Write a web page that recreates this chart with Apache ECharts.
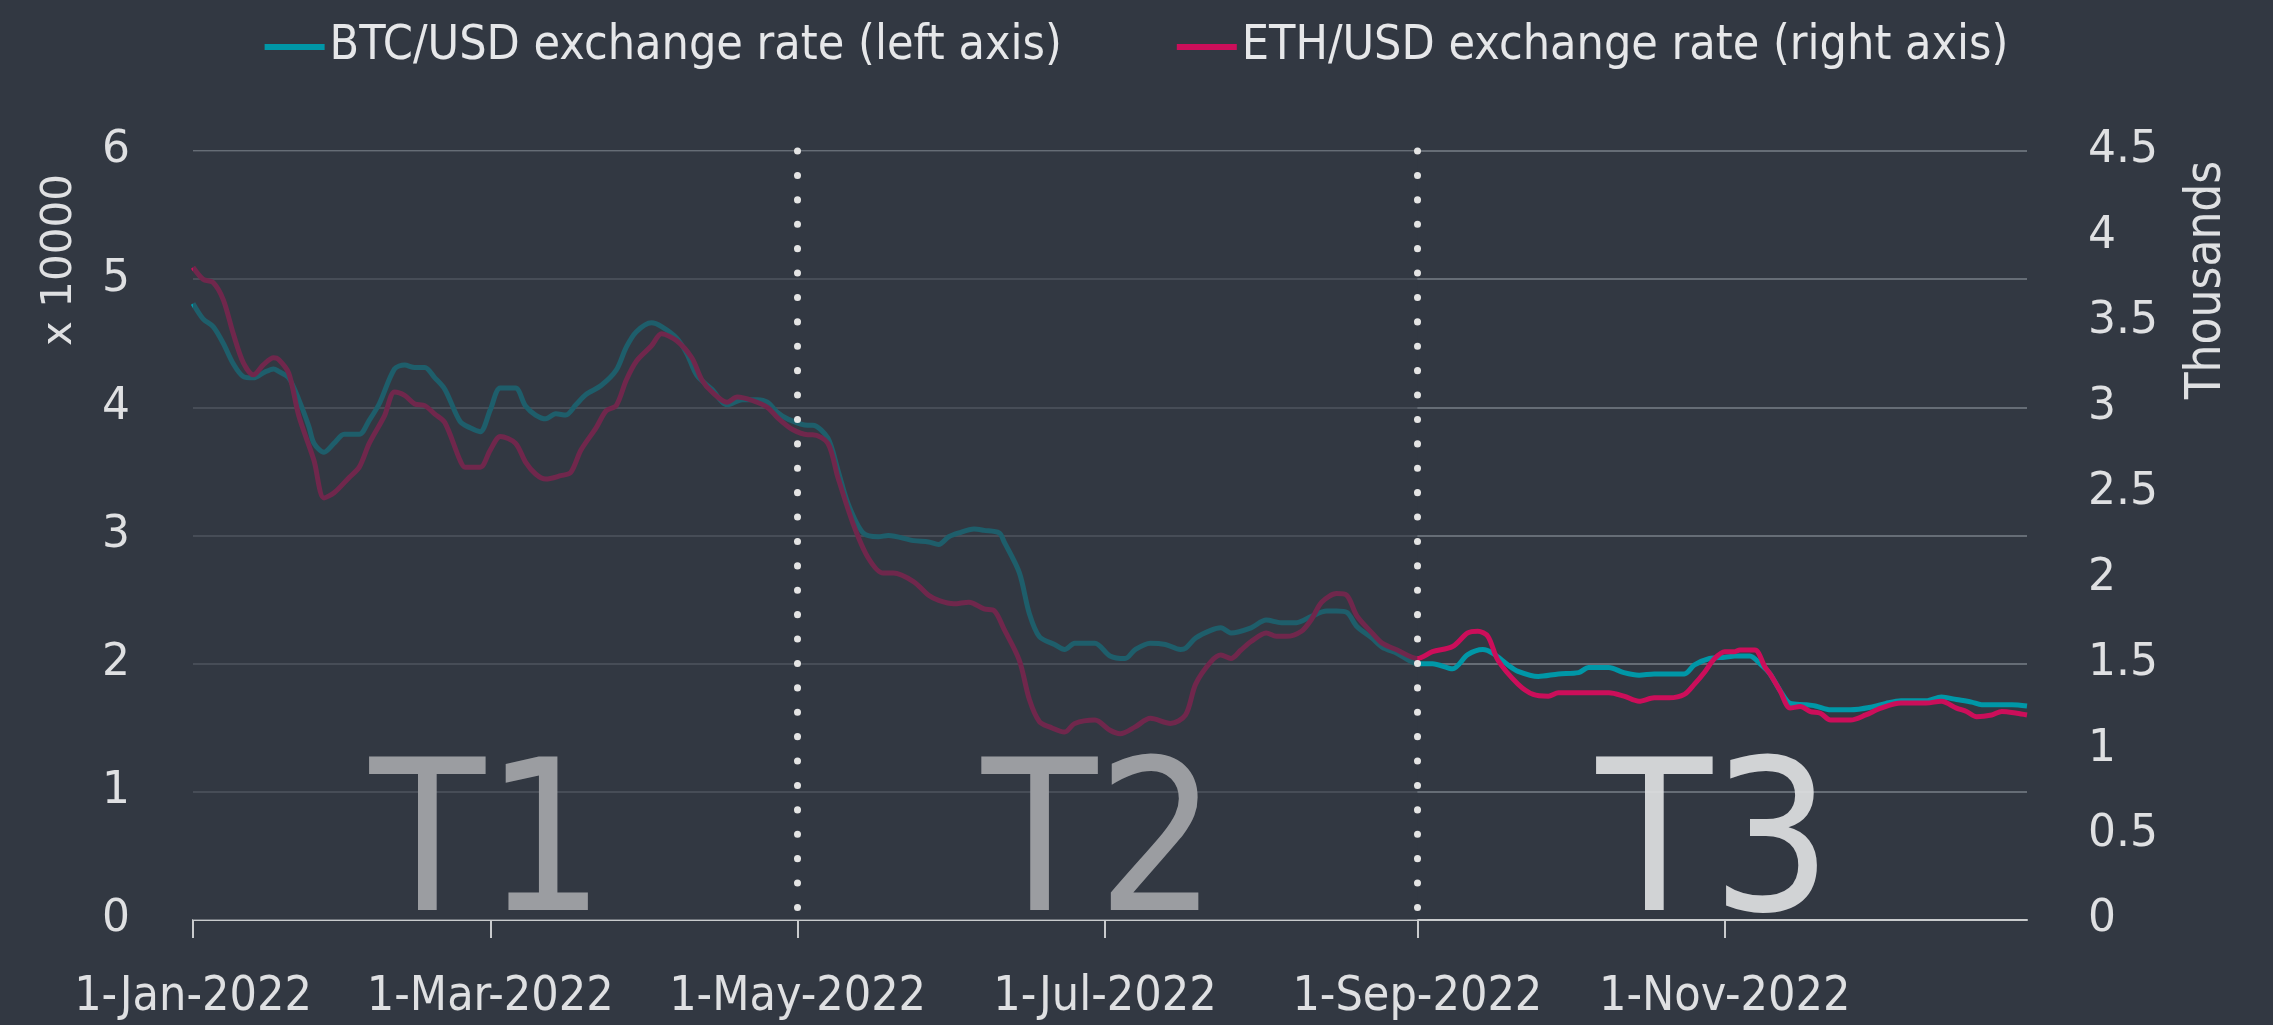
<!DOCTYPE html>
<html>
<head>
<meta charset="utf-8">
<title>BTC/USD and ETH/USD exchange rates, 2022</title>
<script src="https://cdn.jsdelivr.net/npm/echarts@6/dist/echarts.min.js"></script>
<style>
  html, body { margin: 0; padding: 0; background: #323842; }
  #chart { width: 2273px; height: 1025px; }
</style>
</head>
<body>
<div id="chart"></div>
<script>
// days since 1-Jan-2022 and value
const btcDays = [0, 2, 4, 6, 8, 10, 12, 14, 16, 17, 19, 21, 23, 24, 26, 28, 30, 33, 35, 37, 40, 42, 44, 46, 48, 50, 53, 55, 57, 59, 61, 64, 66, 68, 70, 72, 74, 76, 78, 81, 84, 86, 88, 91, 93, 96, 98, 100, 103, 106, 109, 112, 114, 116, 118, 122, 123, 126, 128, 130, 133, 136, 138, 143, 146, 148, 150, 152, 155, 157, 160, 161, 164, 166, 168, 171, 173, 175, 179, 182, 185, 187, 190, 193, 196, 197, 199, 202, 204, 206, 210, 213, 216, 219, 222, 225, 227, 229, 231, 234, 236, 239, 243, 246, 250, 253, 256, 258, 261, 263, 267, 271, 275, 277, 281, 284, 287, 290, 293, 296, 298, 301, 304, 306, 309, 311, 313, 315, 317, 320, 322, 325, 329, 333, 336, 339, 341, 344, 347, 350, 353, 355, 358, 361, 364];
const btcValues = [4.81, 4.69, 4.63, 4.50, 4.34, 4.24, 4.23, 4.27, 4.30, 4.28, 4.23, 4.06, 3.85, 3.72, 3.65, 3.72, 3.79, 3.79, 3.90, 4.03, 4.30, 4.33, 4.31, 4.31, 4.23, 4.14, 3.89, 3.84, 3.81, 3.98, 4.15, 4.15, 4.01, 3.94, 3.91, 3.95, 3.94, 4.02, 4.10, 4.17, 4.29, 4.47, 4.59, 4.66, 4.63, 4.54, 4.42, 4.25, 4.14, 4.02, 4.06, 4.06, 4.04, 3.96, 3.91, 3.86, 3.86, 3.76, 3.51, 3.25, 3.02, 2.99, 3.00, 2.96, 2.95, 2.93, 2.99, 3.02, 3.05, 3.04, 3.02, 2.95, 2.71, 2.39, 2.21, 2.15, 2.11, 2.16, 2.16, 2.06, 2.04, 2.11, 2.16, 2.15, 2.11, 2.12, 2.20, 2.26, 2.28, 2.24, 2.28, 2.34, 2.32, 2.32, 2.37, 2.41, 2.41, 2.40, 2.29, 2.20, 2.13, 2.08, 2.00, 2.00, 1.96, 2.07, 2.11, 2.08, 1.99, 1.94, 1.90, 1.92, 1.93, 1.97, 1.97, 1.93, 1.91, 1.92, 1.92, 1.92, 1.99, 2.04, 2.05, 2.06, 2.06, 2.00, 1.92, 1.79, 1.69, 1.68, 1.67, 1.64, 1.64, 1.66, 1.69, 1.71, 1.71, 1.71, 1.74, 1.72, 1.70, 1.68, 1.68, 1.68, 1.67];

const ethDays = [0, 2, 4, 6, 8, 10, 12, 14, 16, 17, 19, 21, 24, 26, 28, 31, 33, 35, 38, 40, 42, 44, 46, 48, 50, 53, 54, 57, 59, 61, 64, 66, 68, 70, 73, 75, 77, 80, 82, 84, 86, 88, 91, 93, 96, 99, 101, 103, 106, 108, 111, 114, 116, 119, 122, 123, 126, 128, 131, 134, 137, 139, 143, 146, 148, 151, 154, 157, 159, 161, 164, 166, 168, 170, 173, 175, 179, 182, 184, 187, 190, 194, 197, 199, 202, 204, 206, 208, 210, 213, 215, 217, 220, 222, 224, 227, 229, 231, 234, 236, 239, 243, 246, 250, 253, 255, 257, 259, 263, 266, 269, 271, 276, 281, 284, 287, 290, 293, 296, 298, 300, 302, 304, 306, 307, 310, 312, 313, 315, 317, 319, 321, 323, 325, 329, 332, 335, 339, 341, 344, 347, 350, 352, 354, 357, 359, 362, 364];
const ethValues = [3.82, 3.75, 3.73, 3.63, 3.43, 3.26, 3.19, 3.25, 3.29, 3.28, 3.20, 2.95, 2.69, 2.47, 2.50, 2.59, 2.65, 2.79, 2.95, 3.09, 3.07, 3.02, 3.01, 2.96, 2.91, 2.69, 2.65, 2.65, 2.75, 2.83, 2.79, 2.68, 2.61, 2.58, 2.60, 2.62, 2.75, 2.88, 2.98, 3.01, 3.16, 3.27, 3.36, 3.43, 3.39, 3.29, 3.16, 3.09, 3.03, 3.06, 3.04, 3.00, 2.94, 2.87, 2.84, 2.84, 2.79, 2.59, 2.32, 2.12, 2.03, 2.03, 1.98, 1.90, 1.87, 1.85, 1.86, 1.82, 1.81, 1.70, 1.52, 1.29, 1.16, 1.13, 1.10, 1.15, 1.17, 1.11, 1.09, 1.13, 1.18, 1.15, 1.20, 1.38, 1.51, 1.55, 1.53, 1.58, 1.63, 1.68, 1.66, 1.66, 1.69, 1.76, 1.86, 1.91, 1.90, 1.78, 1.68, 1.62, 1.58, 1.53, 1.57, 1.60, 1.68, 1.69, 1.66, 1.52, 1.38, 1.32, 1.31, 1.33, 1.33, 1.33, 1.31, 1.28, 1.30, 1.30, 1.32, 1.38, 1.45, 1.53, 1.57, 1.57, 1.58, 1.58, 1.48, 1.44, 1.34, 1.24, 1.25, 1.22, 1.21, 1.17, 1.17, 1.20, 1.24, 1.27, 1.27, 1.27, 1.28, 1.24, 1.22, 1.19, 1.20, 1.22, 1.21, 1.20];

const xTickDates = ['2022-01-01', '2022-03-01', '2022-05-01', '2022-07-01', '2022-09-01', '2022-11-01'];
const periodNames = ['T1', 'T2', 'T3'];
const periodStarts = ['2022-01-01', '2022-05-01', '2022-09-01'];
const periodEnds = ['2022-05-01', '2022-09-01', '2022-12-31'];
const dividerDates = ['2022-05-01', '2022-09-01'];
const dimRange = ['2022-01-01', '2022-09-01'];

const seriesNames = ['BTC/USD exchange rate (left axis)', 'ETH/USD exchange rate (right axis)'];
const monthNames = ['Jan', 'Feb', 'Mar', 'Apr', 'May', 'Jun', 'Jul', 'Aug', 'Sep', 'Oct', 'Nov', 'Dec'];

const DAY = 86400000;
const START = Date.UTC(2022, 0, 1);
const END = Date.UTC(2022, 11, 31);
const toTime = d => START + d * DAY;
const parseDate = s => {
  const [y, m, d] = s.split('-').map(Number);
  return Date.UTC(y, m - 1, d);
};
const fmtDate = v => {
  const d = new Date(v);
  return d.getUTCDate() + '-' + monthNames[d.getUTCMonth()] + '-' + d.getUTCFullYear();
};

const btcData = btcDays.map((d, i) => [toTime(d), btcValues[i]]);
const ethData = ethDays.map((d, i) => [toTime(d), ethValues[i]]);
const xTicks = xTickDates.map(parseDate);

const bg = '#323842';
const textColor = '#dfe0e2';
const gridColor = '#666d76';
const teal = '#0097a7';
const magenta = '#cc0e5a';
const periodColors = ['#9b9da1', '#9b9da1', 'rgba(222,223,225,0.93)'];

const chart = echarts.init(document.getElementById('chart'));

chart.setOption({
  backgroundColor: bg,
  animation: false,
  textStyle: { fontFamily: 'DejaVu Sans Condensed' },
  legend: {
    data: seriesNames,
    top: 18,
    left: 'center',
    icon: 'rect',
    itemWidth: 60,
    itemHeight: 6,
    itemGap: 115,
    textStyle: {
      color: '#e6e7e9',
      fontSize: 48,
      fontFamily: 'DejaVu Sans Condensed'
    }
  },
  grid: { left: 193, right: 246, top: 151, bottom: 105 },
  // timestamps on a plain value axis, labelled as dates
  xAxis: {
    type: 'value',
    min: START,
    max: END,
    splitLine: { show: false },
    axisLine: { lineStyle: { color: '#c9cbcd', width: 2 } },
    axisTick: {
      show: true,
      length: 18,
      customValues: xTicks,
      lineStyle: { color: '#c9cbcd', width: 2 }
    },
    axisLabel: {
      customValues: xTicks,
      formatter: v => fmtDate(v),
      color: textColor,
      fontSize: 48,
      fontFamily: 'DejaVu Sans Condensed',
      margin: 54
    }
  },
  yAxis: [
    {
      type: 'value',
      min: 0,
      max: 6,
      interval: 1,
      axisLine: { show: false },
      axisTick: { show: false },
      splitLine: { lineStyle: { color: gridColor, width: 2 } },
      axisLabel: { color: textColor, fontSize: 44, fontFamily: 'DejaVu Sans', margin: 63 }
    },
    {
      type: 'value',
      position: 'right',
      min: 0,
      max: 4.5,
      interval: 0.5,
      axisLine: { show: false },
      axisTick: { show: false },
      splitLine: { show: false },
      axisLabel: { color: textColor, fontSize: 44, fontFamily: 'DejaVu Sans', margin: 61 }
    }
  ],
  graphic: [
    {
      type: 'text',
      x: 60,
      y: 260,
      rotation: Math.PI / 2,
      style: {
        text: 'x 10000',
        fill: textColor,
        fontSize: 42,
        fontFamily: 'DejaVu Sans',
        align: 'center',
        verticalAlign: 'middle'
      }
    },
    {
      type: 'text',
      x: 2207,
      y: 280,
      rotation: Math.PI / 2,
      style: {
        text: 'Thousands',
        fill: textColor,
        fontSize: 49,
        fontFamily: 'DejaVu Sans Condensed',
        align: 'center',
        verticalAlign: 'middle'
      }
    }
  ],
  series: [
    {
      name: seriesNames[0],
      type: 'line',
      yAxisIndex: 0,
      data: btcData,
      color: teal,
      showSymbol: false,
      smooth: 0.3,
      z: 2,
      lineStyle: { color: teal, width: 5 }
    },
    {
      name: seriesNames[1],
      type: 'line',
      yAxisIndex: 1,
      data: ethData,
      color: magenta,
      showSymbol: false,
      smooth: 0.3,
      z: 3,
      lineStyle: { color: magenta, width: 5 }
    },
    {
      // dims the first two periods
      type: 'line',
      data: [],
      silent: true,
      markArea: {
        z: 10,
        silent: true,
        itemStyle: { color: 'rgba(50,56,66,0.6)' },
        label: { show: false },
        data: [[{ xAxis: parseDate(dimRange[0]) }, { xAxis: parseDate(dimRange[1]) }]]
      }
    },
    {
      // period captions and dotted dividers
      type: 'line',
      data: [],
      silent: true,
      clip: false,
      markArea: {
        z: 11,
        silent: true,
        itemStyle: { color: 'rgba(0,0,0,0)' },
        data: periodNames.map((name, i) => [
          {
            name: name,
            xAxis: parseDate(periodStarts[i]),
            label: {
              show: true,
              position: 'insideBottom',
              offset: [-8, 45],
              color: periodColors[i],
              fontSize: 210,
              fontFamily: 'DejaVu Sans Condensed'
            }
          },
          { xAxis: parseDate(periodEnds[i]) }
        ])
      },
      markLine: {
        z: 12,
        silent: true,
        symbol: ['none', 'none'],
        label: { show: false },
        lineStyle: { color: '#e4e4e4', width: 7, type: [0.1, 24.3], cap: 'round' },
        data: dividerDates.map(d => [
          { coord: [parseDate(d), 6] },
          { coord: [parseDate(d), 0] }
        ])
      }
    }
  ]
});
</script>
</body>
</html>
